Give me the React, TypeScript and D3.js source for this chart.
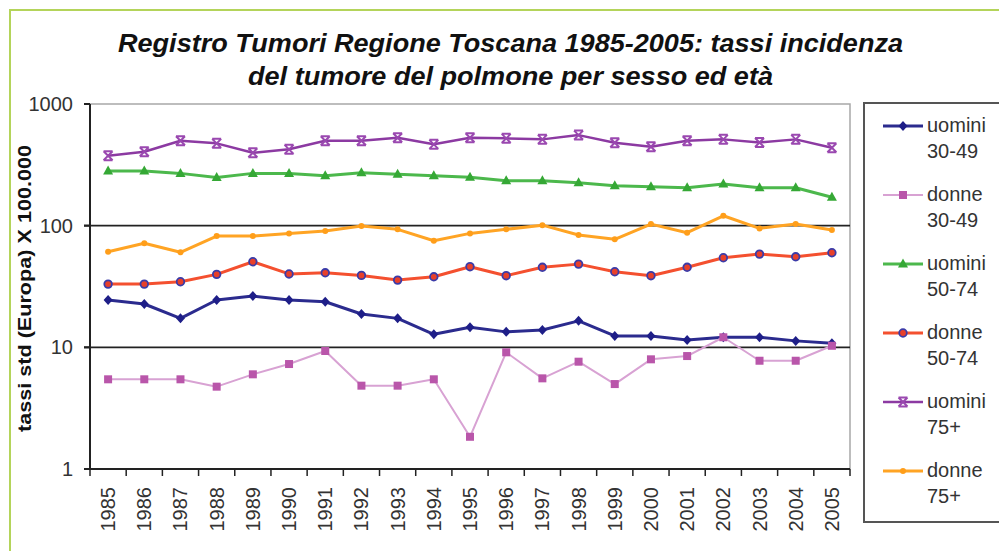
import React from "react";
import * as d3 from "d3";

const years = ["1985","1986","1987","1988","1989","1990","1991","1992","1993","1994","1995","1996","1997","1998","1999","2000","2001","2002","2003","2004","2005"];

const uomini3049 = [24.5,22.7,17.3,24.5,26.4,24.5,23.7,18.8,17.3,12.8,14.6,13.4,13.9,16.5,12.4,12.4,11.5,12.1,12.1,11.3,10.8];
const donne3049 = [5.46,5.46,5.46,4.75,6.0,7.29,9.33,4.84,4.84,5.46,1.84,9.1,5.56,7.62,4.99,7.97,8.48,12.1,7.76,7.76,10.3];
const uomini5074 = [281,281,269,249,269,269,257,272,264,257,250,234,234,225,213,209,205,220,205,205,171];
const donne5074 = [33.1,33.1,34.6,39.8,50.5,40.1,41,39,35.7,38,46,38.8,45.5,48.3,41.8,38.8,45.5,54.5,58.4,55.5,59.9];
const uomini75 = [375,405,499,475,397,424,499,499,528,466,528,522,512,555,480,445,499,512,483,512,437];
const donne75 = [61,71.6,60.4,82.2,82.2,86.4,90.3,99.3,93.3,75.2,86.4,93.3,101,83.7,77.2,103,87.5,120.6,95,103,92];

const yTicks = [1, 10, 100, 1000];
const titleLines = ["Registro Tumori Regione Toscana 1985-2005: tassi incidenza", "del tumore del polmone per sesso ed età"];
const yTitle = "tassi std (Europa) X 100.000";

type Series = { name: string[]; values: number[]; line: string; width: number; marker: string; mfill: string; mstroke: string };

const series: Series[] = [
  { name: ["uomini", "30-49"], values: uomini3049, line: "#2b2b8e", width: 3, marker: "diamond", mfill: "#1e1e88", mstroke: "#1e1e88" },
  { name: ["donne", "30-49"], values: donne3049, line: "#d8a2d3", width: 2, marker: "square", mfill: "#b956aa", mstroke: "#b956aa" },
  { name: ["uomini", "50-74"], values: uomini5074, line: "#4cb84c", width: 3, marker: "triangle", mfill: "#35a835", mstroke: "#35a835" },
  { name: ["donne", "50-74"], values: donne5074, line: "#f4502f", width: 3, marker: "circle", mfill: "#e8402a", mstroke: "#3b3ba8" },
  { name: ["uomini", "75+"], values: uomini75, line: "#8c3aa2", width: 2.5, marker: "x", mfill: "#9a48b0", mstroke: "#9a48b0" },
  { name: ["donne", "75+"], values: donne75, line: "#ffa424", width: 3, marker: "dot", mfill: "#ff9e1a", mstroke: "#ff9e1a" },
];

const L = 90, R = 850, T = 104, B = 469;

function Marker({ type, x, y, fill, stroke }: { type: string; x: number; y: number; fill: string; stroke: string }) {
  switch (type) {
    case "diamond":
      return <path d={`M${x},${y - 5}L${x + 4.5},${y}L${x},${y + 5}L${x - 4.5},${y}Z`} fill={fill} />;
    case "square":
      return <rect x={x - 4} y={y - 4} width={8} height={8} fill={fill} />;
    case "triangle":
      return <path d={`M${x},${y - 5.5}L${x + 5},${y + 3.5}L${x - 5},${y + 3.5}Z`} fill={fill} />;
    case "circle":
      return <circle cx={x} cy={y} r={3.8} fill={fill} stroke={stroke} strokeWidth={1.8} />;
    case "x":
      return (
        <g stroke={stroke} strokeWidth={2}>
          <path d={`M${x - 4.5},${y - 4.5}L${x + 4.5},${y + 4.5}M${x + 4.5},${y - 4.5}L${x - 4.5},${y + 4.5}M${x - 4.5},${y - 4.5}L${x + 4.5},${y - 4.5}M${x - 4.5},${y + 4.5}L${x + 4.5},${y + 4.5}`} fill="none" />
        </g>
      );
    default:
      return <circle cx={x} cy={y} r={3} fill={fill} />;
  }
}

export default function App() {
  const x = d3.scaleBand<string>().domain(years).range([L, R]);
  const bw = x.bandwidth();
  const cx = (yr: string) => (x(yr) as number) + bw / 2;
  const y = d3.scaleLog().domain([1, 1000]).range([B, T]);
  const line = (vals: number[]) =>
    d3.line<number>().x((_, i) => cx(years[i])).y((v) => y(v))(vals) as string;

  const boundaries = years.map((yr) => x(yr) as number).concat([R]);

  return (
    <svg width={999} height={551} style={{ position: "absolute", left: 0, top: 0, background: "#fff" }} fontFamily="Liberation Sans, Arial, sans-serif">
      <rect x={0} y={0} width={999} height={551} fill="#fff" />
      <path d="M10,560V10H1010" fill="none" stroke="#b4d45a" strokeWidth={2} />

      {titleLines.map((t, i) => (
        <text key={i} x={i === 0 ? 118 : 248} y={i === 0 ? 52 : 85} fontSize={25} fontWeight="bold" fontStyle="italic" fill="#111"
          textLength={i === 0 ? 785 : 525} lengthAdjust="spacingAndGlyphs">{t}</text>
      ))}

      {/* frame */}
      <path d={`M${L},${T}H${R}V${B}`} fill="none" stroke="#a8a8a8" strokeWidth={1.5} />
      {/* gridlines */}
      {[10, 100].map((v) => (
        <line key={v} x1={L - 6} x2={R} y1={y(v)} y2={y(v)} stroke="#222" strokeWidth={1.8} />
      ))}
      {/* y axis */}
      <line x1={L} x2={L} y1={T} y2={B} stroke="#222" strokeWidth={2} />
      {yTicks.map((v) => (
        <g key={v}>
          <line x1={L - 6} x2={L} y1={y(v)} y2={y(v)} stroke="#222" strokeWidth={2} />
          <text x={73} y={y(v) + 7} fontSize={20} textAnchor="end" fill="#333">{v}</text>
        </g>
      ))}
      {/* x axis */}
      <line x1={L - 6} x2={R} y1={B} y2={B} stroke="#222" strokeWidth={2} />
      {boundaries.map((bx, i) => (
        <line key={i} x1={bx} x2={bx} y1={B} y2={B + 7} stroke="#222" strokeWidth={1.5} />
      ))}
      {years.map((yr) => (
        <text key={yr} transform={`translate(${cx(yr) + 7},487) rotate(-90)`} fontSize={20} textAnchor="end" fill="#333">{yr}</text>
      ))}

      <text transform="translate(31,288.5) rotate(-90)" fontSize={19} fontWeight="bold" textAnchor="middle" fill="#111"
        textLength={287} lengthAdjust="spacingAndGlyphs">{yTitle}</text>

      {/* series */}
      {series.map((s, si) => (
        <g key={si}>
          <path d={line(s.values)} fill="none" stroke={s.line} strokeWidth={s.width} strokeLinejoin="round" />
          {s.values.map((v, i) => (
            <Marker key={i} type={s.marker} x={cx(years[i])} y={y(v)} fill={s.mfill} stroke={s.mstroke} />
          ))}
        </g>
      ))}

      {/* legend */}
      <rect x={864} y={103} width={160} height={419} fill="#fff" stroke="#555" strokeWidth={2} />
      {series.map((s, i) => {
        const ly = 126 + i * 69;
        return (
          <g key={i}>
            <line x1={883} x2={923} y1={ly} y2={ly} stroke={s.line} strokeWidth={s.width} />
            <Marker type={s.marker} x={903} y={ly} fill={s.mfill} stroke={s.mstroke} />
            <text x={927} y={ly + 6} fontSize={20} fill="#333">{s.name[0]}</text>
            <text x={927} y={ly + 32} fontSize={20} fill="#333">{s.name[1]}</text>
          </g>
        );
      })}
    </svg>
  );
}
